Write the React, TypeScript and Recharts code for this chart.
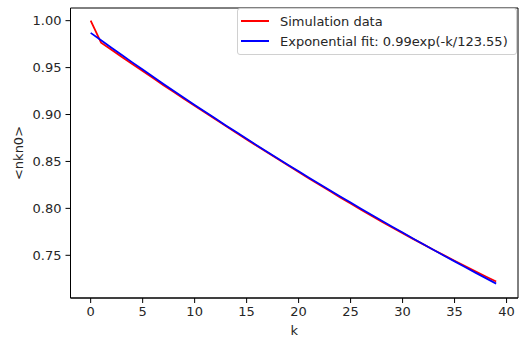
import React from 'react';
import { LineChart, Line, XAxis, YAxis, Label, ReferenceArea } from 'recharts';

// ── 데이터 ────────────────────────────────────────────────────
const K = [
  0, 1, 2, 3, 4, 5, 6, 7, 8, 9,
  10, 11, 12, 13, 14, 15, 16, 17, 18, 19,
  20, 21, 22, 23, 24, 25, 26, 27, 28, 29,
  30, 31, 32, 33, 34, 35, 36, 37, 38, 39,
];
const SIM = [
  1.0, 0.9765, 0.969, 0.9614, 0.9538, 0.9463, 0.9388, 0.9313, 0.9239, 0.9166,
  0.9093, 0.9021, 0.8949, 0.8877, 0.8806, 0.8735, 0.8665, 0.8595, 0.8525, 0.8456,
  0.8387, 0.8319, 0.8251, 0.8184, 0.8117, 0.8051, 0.7986, 0.7922, 0.7859, 0.7797,
  0.7736, 0.7675, 0.7616, 0.7557, 0.7499, 0.7442, 0.7385, 0.7329, 0.7274, 0.7221,
];
const FIT = [
  0.987, 0.97904, 0.97115, 0.96332, 0.95556, 0.94785, 0.94021, 0.93263, 0.92512, 0.91766,
  0.91026, 0.90292, 0.89565, 0.88843, 0.88126, 0.87416, 0.86711, 0.86012, 0.85319, 0.84631,
  0.83949, 0.83272, 0.82601, 0.81935, 0.81275, 0.8062, 0.7997, 0.79325, 0.78686, 0.78051,
  0.77422, 0.76798, 0.76179, 0.75565, 0.74956, 0.74351, 0.73752, 0.73157, 0.72568, 0.71983,
];
const X_TICKS = [0, 5, 10, 15, 20, 25, 30, 35, 40];
const Y_TICKS = [0.75, 0.8, 0.85, 0.9, 0.95, 1.0];
const SERIES = [
  { key: 'sim', name: 'Simulation data', color: '#ff0000' },
  { key: 'fit', name: 'Exponential fit: 0.99exp(-k/123.55)', color: '#0000ff' },
];

const X_DOMAIN: [number, number] = [-1.94, 41.1];
const Y_DOMAIN: [number, number] = [0.7045, 1.0135];

const data = K.map((k, i) => ({ k, sim: SIM[i], fit: FIT[i] }));

const FONT = '"DejaVu Sans", sans-serif';
const TXT = '#262626';
const tickStyle = { fill: TXT, fontSize: 13, fontFamily: FONT };

function YLabel({ viewBox }: { viewBox?: { x: number; y: number; width: number; height: number } }) {
  if (!viewBox) return null;
  const cx = 18;
  const cy = viewBox.y + viewBox.height / 2;
  return (
    <text x={cx} y={cy} transform={`rotate(-90 ${cx} ${cy})`} textAnchor="middle" dominantBaseline="central"
      style={tickStyle}>{'<nkn0>'}</text>
  );
}

export default function App() {
  return (
    <div style={{ position: 'fixed', left: 0, top: 0, width: 519, height: 338, background: '#fff' }}>
      <LineChart width={519} height={338} data={data} margin={{ top: 8, right: 1, bottom: 0, left: 0 }}>
        <XAxis dataKey="k" type="number" domain={X_DOMAIN} ticks={X_TICKS} allowDataOverflow
          tick={tickStyle} tickSize={5} tickMargin={4} height={40}
          axisLine={{ stroke: '#000', strokeWidth: 1 }} tickLine={{ stroke: '#000' }}>
          <Label value="k" position="insideBottom" offset={3} style={tickStyle} />
        </XAxis>
        <YAxis type="number" domain={Y_DOMAIN} ticks={Y_TICKS} allowDataOverflow
          tickFormatter={(v: number) => v.toFixed(2)} tick={tickStyle} tickSize={5} tickMargin={4} width={70.5}
          axisLine={{ stroke: '#000', strokeWidth: 1 }} tickLine={{ stroke: '#000' }}>
          <Label content={<YLabel />} />
        </YAxis>
        {/* 테두리 */}
        <ReferenceArea x1={X_DOMAIN[0]} x2={X_DOMAIN[1]} y1={Y_DOMAIN[0]} y2={Y_DOMAIN[1]}
          fill="none" fillOpacity={0} stroke="#000" strokeWidth={1} strokeOpacity={1} ifOverflow="extendDomain" />
        {SERIES.map(s => (
          <Line key={s.key} dataKey={s.key} name={s.name} stroke={s.color} strokeWidth={1.8} dot={false}
            isAnimationActive={false} />
        ))}
      </LineChart>
      {/* 범례 */}
      <div style={{
        position: 'absolute', left: 237, top: 8, width: 280, boxSizing: 'border-box',
        background: '#fff', border: '1px solid #d0d0d0', borderRadius: 3,
        padding: '2px 6px 3px 3px', fontFamily: FONT, fontSize: 13, color: TXT,
      }}>
        {SERIES.map(s => (
          <div key={s.key} style={{ display: 'flex', alignItems: 'center', height: 20 }}>
            <span style={{ width: 28, height: 2, background: s.color, display: 'inline-block', marginRight: 11 }} />
            <span>{s.name}</span>
          </div>
        ))}
      </div>
    </div>
  );
}
